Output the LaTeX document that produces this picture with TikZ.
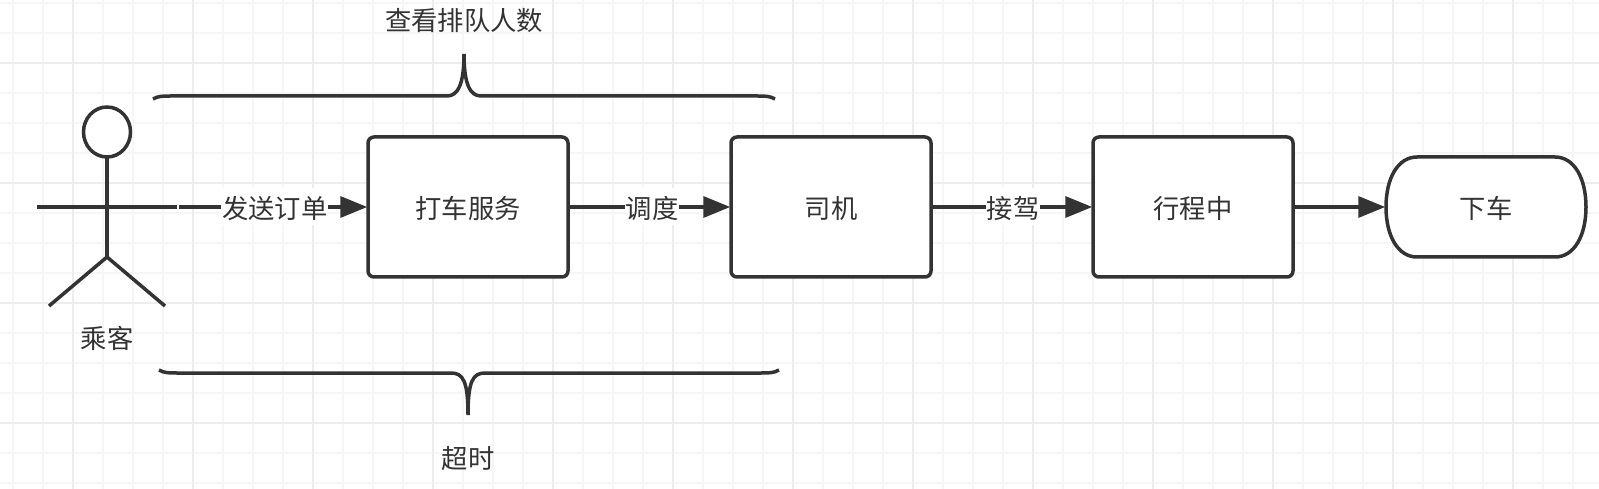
\documentclass[tikz,border=0pt]{standalone}
\usepackage{fontspec}
\setmainfont{Noto Sans CJK SC}
\usetikzlibrary{arrows.meta, positioning}
\definecolor{flowdark}{RGB}{51,51,51}
\definecolor{gridminor}{RGB}{246,246,246}
\definecolor{gridmajor}{RGB}{237,237,237}

\begin{document}
\begin{tikzpicture}[
    x=1pt, y=-1pt,
    node distance=159.5pt,
    every node/.style={text=flowdark, font=\fontsize{26.3}{30}\selectfont, text height=24pt, text depth=1pt},
    stage/.style={rectangle, draw=flowdark, line width=3.5pt, rounded corners=6pt, fill=white,
                  minimum width=200pt, minimum height=140pt},
    finish/.style={rectangle, line width=3.5pt, minimum width=200pt, minimum height=100pt},
    port/.style={fill=white, inner sep=1pt, minimum height=37pt},
    arr/.style={-{Triangle[length=27pt, width=21pt]}, shorten >=-1pt, line width=3.5pt, flowdark},
    limb/.style={line width=3.5pt, flowdark},
    brace/.style={line width=3.5pt, flowdark},
]
    \useasboundingbox (0,0) rectangle (1599,489);
    \fill[white] (0,0) rectangle (1599,489);

    % Grid
    \foreach \px in {13,43,...,1599} \draw[gridminor, line width=2pt] (\px,0) -- (\px,489);
    \foreach \py in {3,33,...,489} \draw[gridminor, line width=2pt] (0,\py) -- (1599,\py);
    \foreach \px in {73,193,...,1599} \draw[gridmajor, line width=2pt] (\px,0) -- (\px,489);
    \foreach \py in {63,183,...,489} \draw[gridmajor, line width=2pt] (0,\py) -- (1599,\py);

    % Row: Passenger and stages
    \node[minimum width=144pt, minimum height=200pt, inner sep=0pt] (actor) at (107,207) {};
    \node[stage] (taxi) at (468,207) {打车服务};
    \node[stage, right=of taxi] (driver) {司机};
    \node[stage, right=158.5pt of driver] (trip) {行程中};
    \node[finish, right=89.5pt of trip] (off) {};
    \node[below=17pt of actor, inner sep=0pt] (actorlabel) {乘客};

    % End shape
    \draw[limb, fill=white] ([shift={(-69pt,50pt)}]off.center) -- ([shift={(69pt,50pt)}]off.center)
        .. controls ([shift={(88pt,50pt)}]off.center) and ([shift={(100pt,29pt)}]off.center) .. ([shift={(100pt,0pt)}]off.center)
        .. controls ([shift={(100pt,-29pt)}]off.center) and ([shift={(88pt,-50pt)}]off.center) .. ([shift={(69pt,-50pt)}]off.center)
        -- ([shift={(-69pt,-50pt)}]off.center)
        .. controls ([shift={(-88pt,-50pt)}]off.center) and ([shift={(-100pt,-29pt)}]off.center) .. ([shift={(-100pt,0pt)}]off.center)
        .. controls ([shift={(-100pt,29pt)}]off.center) and ([shift={(-88pt,50pt)}]off.center) .. cycle;
    \node (offlabel) at (off) {下车};

    % Stick figure
    \draw[limb, fill=white] (107,132) ellipse [x radius=23.5pt, y radius=25pt];
    \draw[limb] (107,157) -- (107,257);
    \draw[limb] (37,207) -- (177,207);
    \draw[limb] (49,306) -- (107,257) -- (165,306);

    % Connections
    \draw[arr] (actor.east) -- (taxi.west) node[midway, port, xshift=2pt] {发送订单};
    \draw[arr] (taxi) -- (driver) node[midway, port, xshift=2.5pt] {调度};
    \draw[arr] (driver) -- (trip) node[midway, port, xshift=1pt] {接驾};
    \draw[arr] (trip) -- (off);

    % Braces
    \node (queue) at (464,19.5) {查看排队人数};
    \node (timeout) at (468,456.5) {超时};
    \draw[brace] (153,99) .. controls (158,96) and (163,96) .. (171,96) -- (447,96)
        .. controls (458,96) and (464,84) .. (464,54)
        .. controls (464,84) and (470,96) .. (481,96) -- (757,96)
        .. controls (765,96) and (770,96) .. (775,99);
    \draw[brace] (159,370) .. controls (164,373) and (169,373) .. (177,373) -- (451,373)
        .. controls (463,373) and (468,381) .. (468,415)
        .. controls (468,381) and (473,373) .. (485,373) -- (761,373)
        .. controls (769,373) and (774,373) .. (779,370);
\end{tikzpicture}
\end{document}
